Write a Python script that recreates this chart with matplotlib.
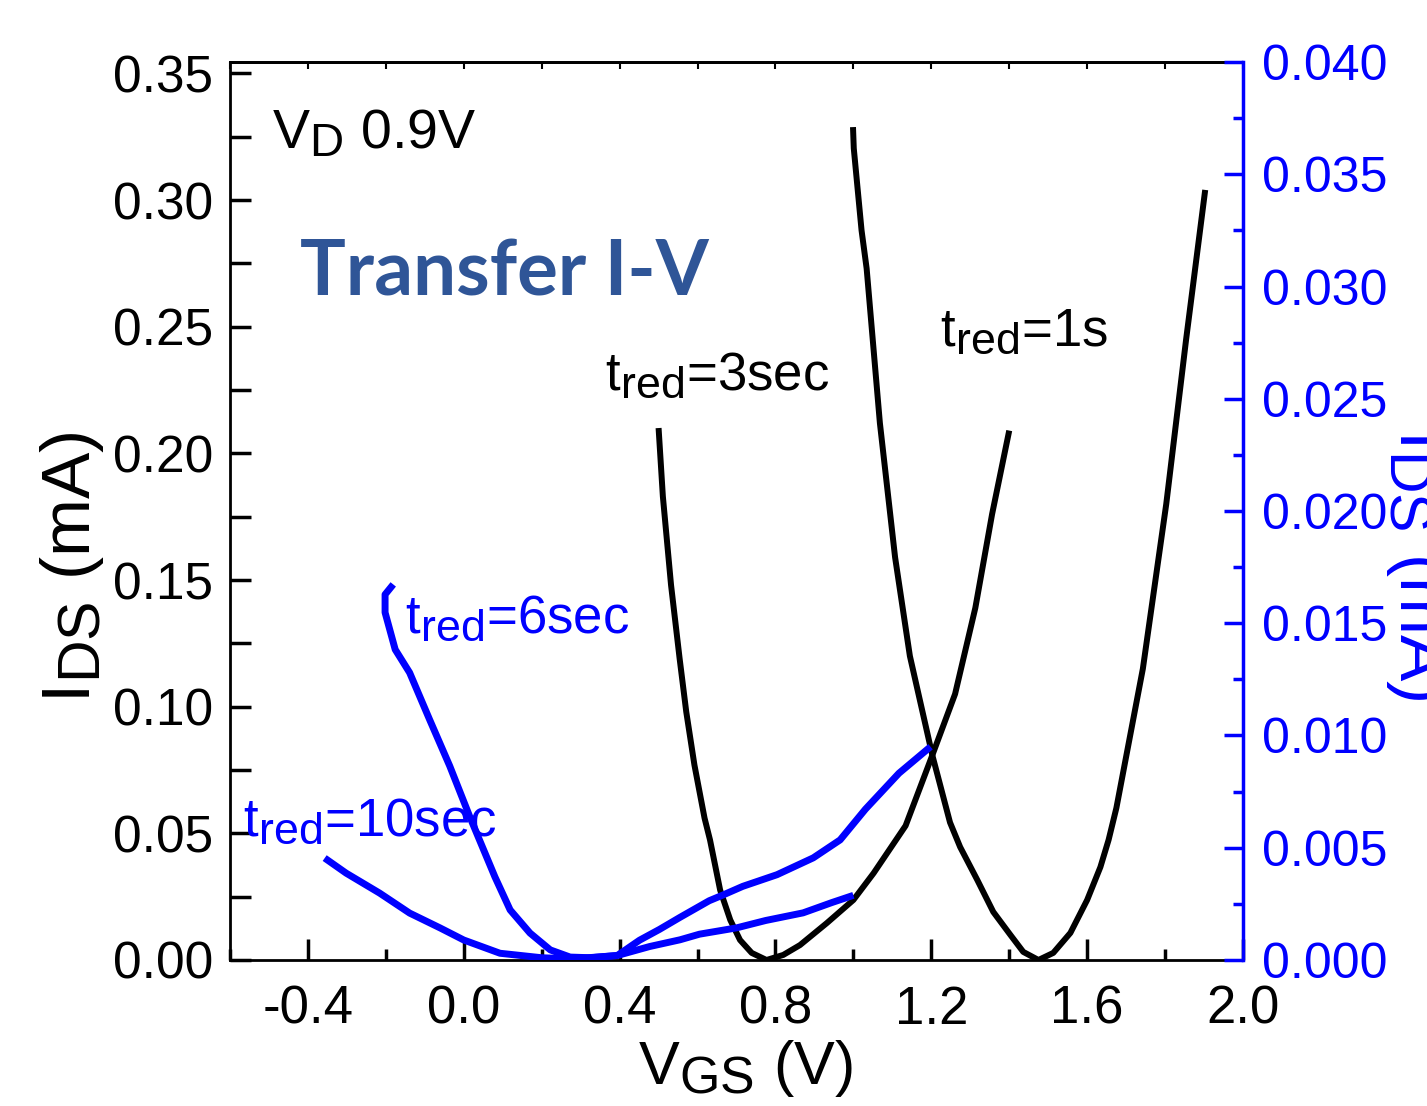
import matplotlib
matplotlib.use('Agg')
import matplotlib.pyplot as plt
import matplotlib._mathtext as _mt
from matplotlib.ticker import MultipleLocator, FormatStrFormatter

# larger subscripts, like the reference
_mt.SHRINK_FACTOR = 0.85

plt.rcParams['mathtext.fontset'] = 'custom'
plt.rcParams['mathtext.rm'] = 'Liberation Sans'
plt.rcParams['mathtext.it'] = 'Liberation Sans'
plt.rcParams['mathtext.default'] = 'rm'

REG = ['Liberation Sans', 'DejaVu Sans']
BLUE = '#0000ff'

# t_red = 3 sec (left axis, mA)
a_v = [0.50, 0.511, 0.532, 0.554, 0.571, 0.592, 0.618, 0.632, 0.658, 0.684, 0.709, 0.739,
       0.777, 0.82, 0.863, 0.932, 1.0, 1.052, 1.134, 1.202, 1.261, 1.313, 1.356, 1.40]
a_i = [0.210, 0.183, 0.148, 0.119, 0.098, 0.077, 0.056, 0.0474, 0.0276, 0.0158, 0.0079, 0.0028,
       0.0, 0.002, 0.0059, 0.0146, 0.0237, 0.0343, 0.053, 0.0806, 0.105, 0.139, 0.176, 0.209]

# t_red = 1 s (left axis, mA)
b_v = [0.999, 1.001, 1.021, 1.034, 1.068, 1.107, 1.145, 1.203, 1.248, 1.274, 1.318, 1.359,
       1.403, 1.436, 1.475, 1.513, 1.557, 1.60, 1.634, 1.655, 1.675, 1.743, 1.803, 1.854, 1.903]
b_i = [0.3288, 0.3204, 0.288, 0.273, 0.212, 0.159, 0.120, 0.0806, 0.0543, 0.0446, 0.0316, 0.019,
       0.0099, 0.0032, 0.0, 0.0028, 0.0107, 0.0237, 0.0367, 0.0474, 0.060, 0.115, 0.180, 0.245,
       0.304]

# t_red = 6 sec (right axis, mA)
c_v = [-0.181, -0.202, -0.202, -0.176, -0.139, -0.0875, -0.036, 0.015, 0.08, 0.119, 0.17,
       0.222, 0.273, 0.325, 0.394, 0.451, 0.502, 0.555, 0.63, 0.666, 0.716, 0.804, 0.897,
       0.966, 1.031, 1.117, 1.198]
c_i = [0.01673, 0.01628, 0.01548, 0.01383, 0.0128, 0.0107, 0.00864, 0.0064, 0.0037, 0.00223,
       0.0012, 0.00045, 0.00013, 0.0001, 0.0002, 0.00088, 0.00136, 0.0019, 0.00264, 0.0029,
       0.00328, 0.0038, 0.00455, 0.00535, 0.00672, 0.00832, 0.0095]

# t_red = 10 sec (right axis, mA)
d_v = [-0.357, -0.302, -0.216, -0.139, -0.061, 0.0, 0.093, 0.2, 0.28, 0.394, 0.477, 0.555,
       0.605, 0.70, 0.775, 0.871, 0.945, 1.0]
d_i = [0.00454, 0.00387, 0.00298, 0.00209, 0.00143, 0.00089, 0.0003, 0.0001, 0.00005, 0.0002,
       0.0006, 0.0009, 0.00115, 0.00143, 0.00176, 0.0021, 0.00256, 0.00288]

fig = plt.figure(figsize=(14.27, 11.06), dpi=100)
ax = fig.add_axes([0.16118, 0.13201, 0.70988, 0.81193])
ax.plot(a_v, a_i, color='black', lw=4.3, solid_joinstyle='round', solid_capstyle='butt')
ax.plot(b_v, b_i, color='black', lw=4.3, solid_joinstyle='round', solid_capstyle='butt')
ax.set_xlim(-0.6, 2.0)
ax.set_ylim(0, 0.3545)

ax.xaxis.set_major_locator(MultipleLocator(0.4))
ax.xaxis.set_minor_locator(MultipleLocator(0.2))
ax.xaxis.set_major_formatter(FormatStrFormatter('%.1f'))
ax.yaxis.set_major_locator(MultipleLocator(0.05))
ax.yaxis.set_minor_locator(MultipleLocator(0.025))
ax.yaxis.set_major_formatter(FormatStrFormatter('%.2f'))
ax.tick_params(axis='x', which='major', direction='in', length=15, width=2.5, top=False,
               labelsize=38, pad=18)
ax.tick_params(axis='x', which='minor', direction='in', length=8, width=2.5, top=False)
ax.tick_params(axis='y', which='both', direction='in', length=15, width=2.5, right=False,
               labelsize=37, pad=12)
for lab in ax.get_xticklabels() + ax.get_yticklabels():
    lab.set_family(REG)
for s in ['left', 'top', 'bottom']:
    ax.spines[s].set_linewidth(2.0)
ax.spines['right'].set_visible(False)

sec = ax.secondary_xaxis('top')
sec.xaxis.set_major_locator(MultipleLocator(0.2))
sec.tick_params(direction='in', length=5, width=1.5, labeltop=False)
sec.spines['top'].set_linewidth(2.0)

ax2 = ax.twinx()
ax2.plot(c_v, c_i, color=BLUE, lw=5.0, solid_joinstyle='round', solid_capstyle='butt')
ax2.plot(d_v, d_i, color=BLUE, lw=5.0, solid_joinstyle='round', solid_capstyle='butt')
ax2.set_ylim(0, 0.040)
ax2.yaxis.set_major_locator(MultipleLocator(0.005))
ax2.yaxis.set_minor_locator(MultipleLocator(0.0025))
ax2.yaxis.set_major_formatter(FormatStrFormatter('%.3f'))
ax2.tick_params(axis='y', which='major', direction='in', length=14, width=2.5, color=BLUE,
                labelcolor=BLUE, labelsize=36, pad=14)
ax2.tick_params(axis='y', which='minor', direction='in', length=7, width=2.5, color=BLUE)
for lab in ax2.get_yticklabels():
    lab.set_family(REG)
for s in ['left', 'top', 'bottom']:
    ax2.spines[s].set_visible(False)
ax2.spines['right'].set_color(BLUE)
ax2.spines['right'].set_linewidth(2.5)

# axis labels
fig.text(72 / 1427, 1 - 567 / 1106, r'I$_{DS}$ (mA)', rotation=90, ha='center', va='center',
         fontsize=50, family=REG)
fig.text(1384 / 1427, 1 - 565 / 1106, r'I$_{DS}$ (mA)', rotation=270, ha='left', va='center',
         fontsize=50, family=REG, color=BLUE)
fig.text(745 / 1427, 1 - 1038 / 1106, r'V$_{GS}$ (V)', ha='center', va='top',
         fontsize=44, family=REG)

# annotations
ax.text(-0.492, 0.3204, r'V$_{D}$ 0.9V', fontsize=40, family=REG, va='baseline')
ax.text(-0.42, 0.2624, 'Transfer I-V', fontsize=55, family=['Lato', 'DejaVu Sans'],
        fontweight='bold', color='#2F5597', va='baseline')
ax.text(0.363, 0.225, r'$t_{red}$=3sec', fontsize=38, family=REG, va='baseline')
ax.text(1.223, 0.2427, r'$t_{red}$=1s', fontsize=38, family=REG, va='baseline')
ax.text(-0.151, 0.1294, r'$t_{red}$=6sec', fontsize=38, family=REG, va='baseline', color=BLUE)
ax.text(-0.567, 0.0493, r'$t_{red}$=10sec', fontsize=38, family=REG, va='baseline', color=BLUE)

fig.savefig('out.png', dpi=100)
